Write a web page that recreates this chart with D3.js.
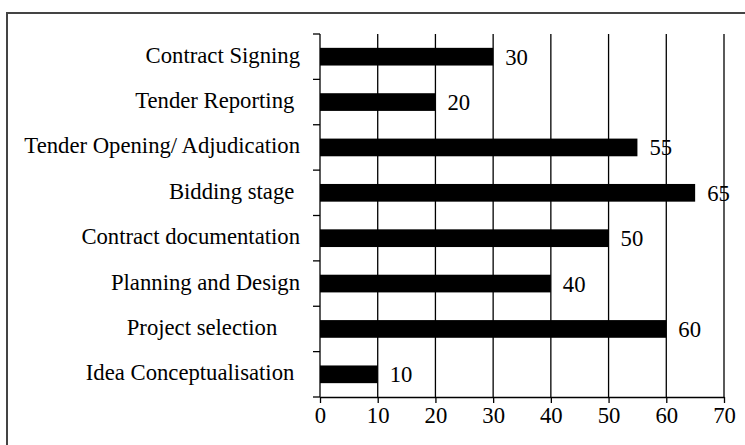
<!DOCTYPE html>
<html>
<head>
<meta charset="utf-8">
<script src="https://cdn.jsdelivr.net/npm/d3@7"></script>
<style>
  html, body { margin: 0; padding: 0; background: #fff; }
  svg { display: block; }
  text { font-family: "Liberation Serif", "Times New Roman", serif; fill: #000; white-space: pre; }
</style>
</head>
<body>
<svg id="chart" width="745" height="445"></svg>
<script>
const categories = [
  "Contract Signing",
  "Tender Reporting ",
  "Tender Opening/ Adjudication",
  "Bidding stage ",
  "Contract documentation",
  "Planning and Design",
  "Project selection    ",
  "Idea Conceptualisation "
];
const values = [30, 20, 55, 65, 50, 40, 60, 10];
const xTicks = [0, 10, 20, 30, 40, 50, 60, 70];

const svg = d3.select("#chart");

// outer frame
svg.append("rect")
  .attr("x", 7).attr("y", 13)
  .attr("width", 770).attr("height", 460)
  .attr("fill", "none").attr("stroke", "#444").attr("stroke-width", 2);

const pLeft = 320, pRight = 724, pTop = 34, pBottom = 397;

const x = d3.scaleLinear().domain([0, 70]).range([pLeft, pRight]);
const y = d3.scaleBand().domain(categories).range([pTop, pBottom])
  .paddingInner(0.61).paddingOuter(0.305);

// vertical gridlines
svg.append("g").selectAll("line")
  .data(xTicks.filter(d => d > 0))
  .join("line")
  .attr("x1", d => x(d)).attr("x2", d => x(d))
  .attr("y1", pTop).attr("y2", pBottom)
  .attr("stroke", "#000").attr("stroke-width", 1.3);

// bars
svg.append("g").selectAll("rect")
  .data(values)
  .join("rect")
  .attr("x", x(0))
  .attr("y", (d, i) => y(categories[i]))
  .attr("width", d => x(d) - x(0))
  .attr("height", y.bandwidth())
  .attr("fill", "#000");

// value labels
svg.append("g").selectAll("text")
  .data(values)
  .join("text")
  .attr("x", d => x(d) + 12)
  .attr("y", (d, i) => y(categories[i]) + y.bandwidth() / 2 + 8)
  .attr("font-size", 22.7)
  .text(d => d);

// x axis
const xAxis = svg.append("g")
  .attr("transform", `translate(0,${pBottom})`)
  .call(d3.axisBottom(x).tickValues(xTicks).tickSize(6).tickSizeOuter(0).tickPadding(0));
xAxis.select(".domain").attr("stroke", "#000").attr("stroke-width", 1.3);
xAxis.selectAll(".tick line").attr("stroke", "#000").attr("stroke-width", 1.3);
xAxis.selectAll(".tick text")
  .attr("font-size", 22.7)
  .attr("font-family", "Liberation Serif, serif")
  .attr("fill", "#000")
  .attr("y", 26).attr("dy", 0);

// y axis line with boundary ticks
svg.append("line")
  .attr("x1", pLeft).attr("x2", pLeft).attr("y1", pTop).attr("y2", pBottom)
  .attr("stroke", "#000").attr("stroke-width", 1.3);
const step = y.step();
const bounds = d3.range(categories.length + 1).map(i => pTop + i * step);
svg.append("g").selectAll("line")
  .data(bounds)
  .join("line")
  .attr("x1", pLeft - 7).attr("x2", pLeft)
  .attr("y1", d => d).attr("y2", d => d)
  .attr("stroke", "#000").attr("stroke-width", 1.3);

// category labels
svg.append("g").selectAll("text")
  .data(categories)
  .join("text")
  .attr("x", 300)
  .attr("y", d => y(d) + y.bandwidth() / 2 + 6)
  .attr("text-anchor", "end")
  .attr("font-size", 22.7)
  .text(d => d);
</script>
</body>
</html>
